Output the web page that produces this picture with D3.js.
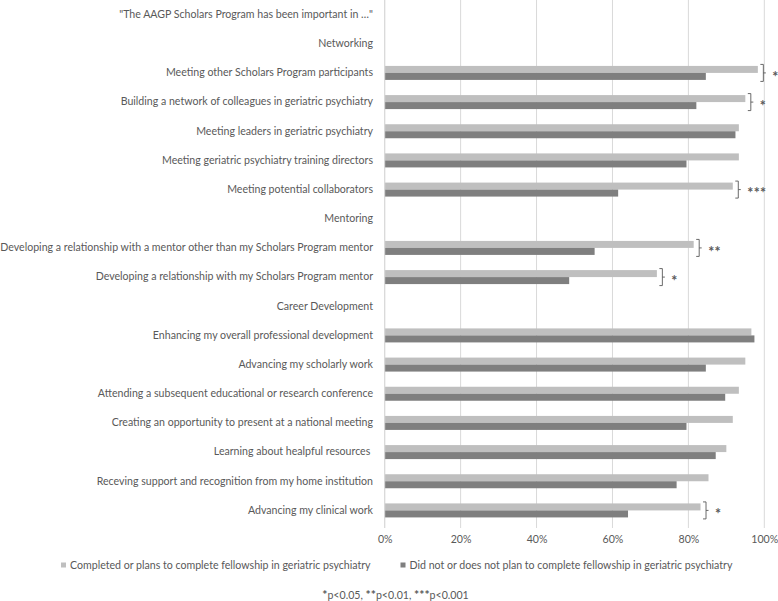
<!DOCTYPE html>
<html>
<head>
<meta charset="utf-8">
<script src="https://cdn.jsdelivr.net/npm/d3@7"></script>
<style>
  html, body { margin: 0; padding: 0; background: #fff; }
  svg { display: block; }
  text { font-family: Lato, "Open Sans", sans-serif; fill: #595959; }
</style>
</head>
<body>
<svg id="chart" width="778" height="601"></svg>
<script>
const categories = [
  "\"The AAGP Scholars Program has been important in \u2026\"",
  "Networking",
  "Meeting other Scholars Program participants",
  "Building a network of colleagues in geriatric psychiatry",
  "Meeting leaders in geriatric psychiatry",
  "Meeting geriatric psychiatry training directors",
  "Meeting potential collaborators",
  "Mentoring",
  "Developing a relationship with a mentor other than my Scholars Program mentor",
  "Developing a relationship with my Scholars Program mentor",
  "Career Development",
  "Enhancing my overall professional development",
  "Advancing my scholarly work",
  "Attending a subsequent educational or research conference",
  "Creating an opportunity to present at a national meeting",
  "Learning about healpful resources ",
  "Receving support and recognition from my home institution",
  "Advancing my clinical work"
];
const completedValues = [null, null, 98.3, 95.0, 93.3, 93.3, 91.7, null, 81.4, 71.7, null, 96.6, 95.0, 93.3, 91.7, 90.0, 85.3, 83.2];
const notCompletedValues = [null, null, 84.6, 82.1, 92.4, 79.5, 61.5, null, 55.3, 48.6, null, 97.4, 84.6, 89.7, 79.5, 87.2, 76.9, 64.1];
const significance = ["", "", "*", "*", "", "", "***", "", "**", "*", "", "", "", "", "", "", "", "*"];
const seriesNames = [
  "Completed or plans to complete fellowship in geriatric psychiatry",
  "Did not or does not plan to complete fellowship in geriatric psychiatry"
];
const seriesColors = ["#BFBFBF", "#7F7F7F"];
const tickValues = [0, 20, 40, 60, 80, 100];
const footnoteParts = [["*", true], ["p<0.05, ", false], ["**", true], ["p<0.01, ", false], ["***", true], ["p<0.001", false]];

const svg = d3.select("#chart");
const plotLeft = 384.7, plotRight = 764.3, plotTop = 0, plotBottom = 525;

// fit the font size so the longest label spans like the reference
const probe = svg.append("text").attr("font-size", 10).text(categories[8]);
const w10 = probe.node().getComputedTextLength();
probe.remove();
const fs = Math.min(12, 10 * 373 / w10);

const x = d3.scaleLinear().domain([0, 100]).range([plotLeft, plotRight]);
const y = d3.scaleBand().domain(categories.map((d, i) => i)).range([plotTop, plotBottom])
  .paddingInner(0.52).paddingOuter(0.26);
const ySub = d3.scaleBand().domain([0, 1]).range([0, y.bandwidth()]);

// gridlines
svg.append("g").selectAll("line").data(tickValues).join("line")
  .attr("x1", d => x(d)).attr("x2", d => x(d))
  .attr("y1", plotTop).attr("y2", plotBottom + 3)
  .attr("stroke", "#D9D9D9").attr("stroke-width", 1);

// x axis labels
const xAxis = d3.axisBottom(x).tickValues(tickValues).tickFormat(d => d + "%").tickSize(0).tickPadding(0);
const gx = svg.append("g").attr("transform", `translate(0,${plotBottom + 10})`).call(xAxis);
gx.select(".domain").remove();
gx.selectAll("text").attr("font-size", fs).attr("fill", "#595959")
  .attr("font-family", "Lato, 'Open Sans', sans-serif");

// category labels
const yAxis = d3.axisLeft(y).tickFormat(i => categories[i]).tickSize(0).tickPadding(0);
const gy = svg.append("g").attr("transform", `translate(373,0)`).call(yAxis);
gy.select(".domain").remove();
gy.selectAll("text").attr("font-size", fs).attr("fill", "#595959")
  .attr("font-family", "Lato, 'Open Sans', sans-serif")
  .style("white-space", "pre");

// bars
const rows = categories.map((c, i) => ({ i, vals: [completedValues[i], notCompletedValues[i]], sig: significance[i] }));
const rowG = svg.append("g").selectAll("g").data(rows).join("g")
  .attr("transform", d => `translate(0,${y(d.i)})`);
rowG.selectAll("rect").data(d => d.vals.map((v, s) => ({ v, s })).filter(e => e.v !== null)).join("rect")
  .attr("x", x(0)).attr("y", e => ySub(e.s))
  .attr("width", e => x(e.v) - x(0)).attr("height", ySub.bandwidth())
  .attr("fill", e => seriesColors[e.s]);

// left axis line
svg.append("line").attr("x1", x(0)).attr("x2", x(0)).attr("y1", plotTop).attr("y2", plotBottom + 3)
  .attr("stroke", "#D9D9D9");

// significance brackets
const sigRows = rows.filter(d => d.sig);
const sg = svg.append("g").selectAll("g").data(sigRows).join("g")
  .attr("transform", d => `translate(${x(d.vals[0]) + 5.5},${y(d.i)})`);
const bh = y.bandwidth();
sg.append("path")
  .attr("d", `M-3,-1.5H0V${bh + 1.5}H-3M0,${bh / 2}H2.5`)
  .attr("fill", "none").attr("stroke", "#595959").attr("stroke-width", 0.9);
const starFs = fs * 1.35;
sg.append("text")
  .attr("x", 9).attr("y", bh / 2 + starFs * 0.62)
  .attr("font-size", starFs).attr("font-weight", "bold")
  .attr("letter-spacing", 0.3)
  .text(d => d.sig);

// legend
const legendY = 565.5;
const legendItems = [{ x: 61, tx: 70 }, { x: 400.5, tx: 409.5 }];
const lg = svg.append("g").selectAll("g").data(seriesNames).join("g");
lg.append("rect").attr("x", (d, i) => legendItems[i].x).attr("y", legendY - 3)
  .attr("width", 5).attr("height", 5).attr("fill", (d, i) => seriesColors[i]);
lg.append("text").attr("x", (d, i) => legendItems[i].tx).attr("y", legendY)
  .attr("dy", "0.35em").attr("font-size", fs).text(d => d);

// footnote
const fn = svg.append("text").attr("x", 395.5).attr("y", 595).attr("dy", "0.35em")
  .attr("text-anchor", "middle").attr("font-size", fs);
fn.selectAll("tspan").data(footnoteParts).join("tspan")
  .attr("font-weight", d => d[1] ? "bold" : "normal")
  .attr("font-size", d => d[1] ? fs * 1.15 : fs)
  .text(d => d[0]);
</script>
</body>
</html>
